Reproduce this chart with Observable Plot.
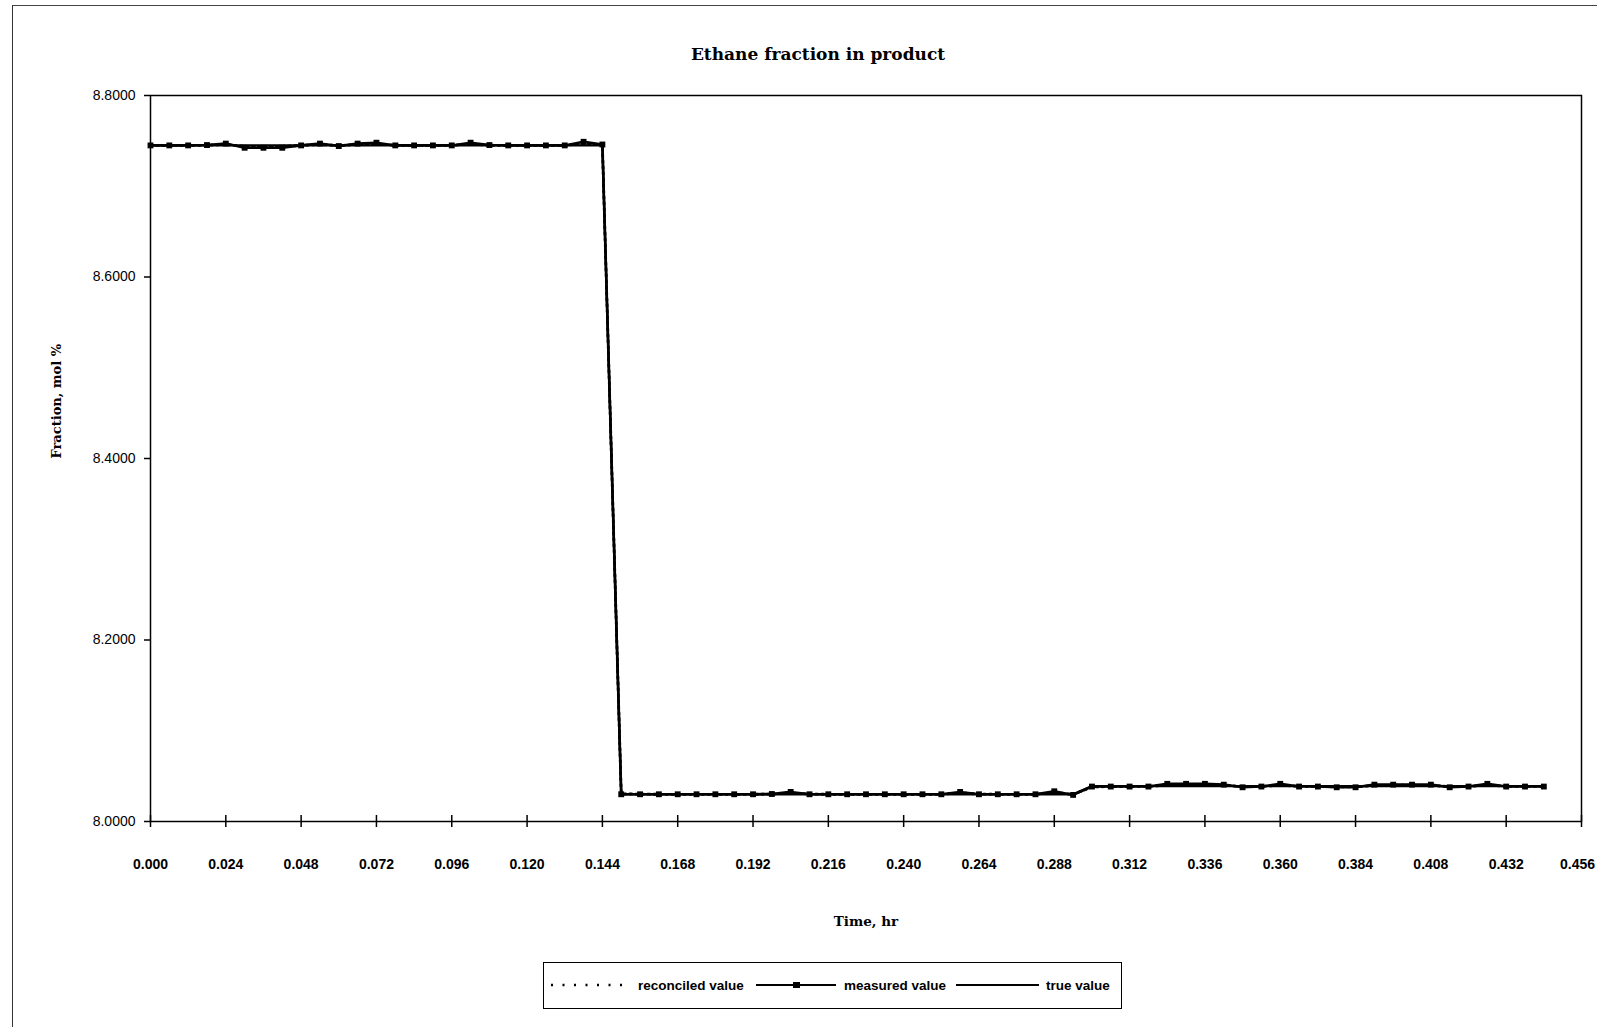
<!DOCTYPE html>
<html>
<head>
<meta charset="utf-8">
<script src="https://cdn.jsdelivr.net/npm/d3@7"></script>
<script src="https://cdn.jsdelivr.net/npm/@observablehq/plot@0.6"></script>
<style>
  html, body { margin: 0; padding: 0; background: white; }
  #page { position: relative; width: 1597px; height: 1027px; overflow: hidden; background: white; }
  #frameBorder { position: absolute; left: 12px; top: 5px; width: 1600px; height: 1100px; z-index: 5;
    border-left: 1.5px solid #333; border-top: 1.5px solid #444; pointer-events: none; }
  #title { position: absolute; top: 44px; left: 818px; transform: translateX(-50%);
    font-family: "DejaVu Serif", serif; font-weight: bold; font-size: 17px; white-space: nowrap; }
  #chart { position: absolute; left: 0; top: 80px; }
  #legend { position: absolute; left: 543px; top: 962px; width: 579px; height: 47px;
    border: 1.5px solid black; box-sizing: border-box; background: white; }
</style>
</head>
<body>
<div id="page">
  <div id="frameBorder"></div>
  <div id="title">Ethane fraction in product</div>
  <div id="chart"></div>
  <div id="legend"></div>
</div>
<script>
// ---- data ----
const time = [
  0.000, 0.006, 0.012, 0.018, 0.024, 0.030, 0.036, 0.042, 0.048, 0.054,
  0.060, 0.066, 0.072, 0.078, 0.084, 0.090, 0.096, 0.102, 0.108, 0.114,
  0.120, 0.126, 0.132, 0.138, 0.144, 0.150, 0.156, 0.162, 0.168, 0.174,
  0.180, 0.186, 0.192, 0.198, 0.204, 0.210, 0.216, 0.222, 0.228, 0.234,
  0.240, 0.246, 0.252, 0.258, 0.264, 0.270, 0.276, 0.282, 0.288, 0.294,
  0.300, 0.306, 0.312, 0.318, 0.324, 0.330, 0.336, 0.342, 0.348, 0.354,
  0.360, 0.366, 0.372, 0.378, 0.384, 0.390, 0.396, 0.402, 0.408, 0.414,
  0.420, 0.426, 0.432, 0.438, 0.444
];
const measuredValue = [
  8.7450, 8.7450, 8.7450, 8.7454, 8.7470, 8.7424, 8.7424, 8.7424, 8.7450, 8.7470,
  8.7443, 8.7470, 8.7480, 8.7450, 8.7450, 8.7450, 8.7450, 8.7480, 8.7454, 8.7450,
  8.7450, 8.7450, 8.7450, 8.7490, 8.7460, 8.0300, 8.0300, 8.0300, 8.0300, 8.0300,
  8.0300, 8.0300, 8.0300, 8.0303, 8.0326, 8.0300, 8.0300, 8.0300, 8.0300, 8.0300,
  8.0300, 8.0300, 8.0300, 8.0326, 8.0300, 8.0300, 8.0300, 8.0300, 8.0333, 8.0293,
  8.0385, 8.0385, 8.0385, 8.0385, 8.0415, 8.0415, 8.0415, 8.0406, 8.0377, 8.0385,
  8.0415, 8.0385, 8.0385, 8.0377, 8.0377, 8.0406, 8.0406, 8.0406, 8.0406, 8.0377,
  8.0385, 8.0415, 8.0385, 8.0385, 8.0385
];
const reconciledValue = [
  8.7450, 8.7450, 8.7450, 8.7452, 8.7460, 8.7440, 8.7438, 8.7440, 8.7450, 8.7460,
  8.7448, 8.7460, 8.7465, 8.7452, 8.7450, 8.7450, 8.7450, 8.7465, 8.7452, 8.7450,
  8.7450, 8.7450, 8.7450, 8.7470, 8.7455, 8.0305, 8.0302, 8.0300, 8.0300, 8.0300,
  8.0300, 8.0300, 8.0300, 8.0302, 8.0315, 8.0302, 8.0300, 8.0300, 8.0300, 8.0300,
  8.0300, 8.0300, 8.0300, 8.0315, 8.0302, 8.0300, 8.0300, 8.0300, 8.0318, 8.0300,
  8.0380, 8.0385, 8.0386, 8.0386, 8.0400, 8.0405, 8.0405, 8.0400, 8.0385, 8.0386,
  8.0400, 8.0388, 8.0386, 8.0382, 8.0382, 8.0396, 8.0400, 8.0400, 8.0398, 8.0384,
  8.0386, 8.0400, 8.0388, 8.0386, 8.0386
];
const trueValue = [
  8.745, 8.745, 8.745, 8.745, 8.745, 8.745, 8.745, 8.745, 8.745, 8.745,
  8.745, 8.745, 8.745, 8.745, 8.745, 8.745, 8.745, 8.745, 8.745, 8.745,
  8.745, 8.745, 8.745, 8.745, 8.745, 8.030, 8.030, 8.030, 8.030, 8.030,
  8.030, 8.030, 8.030, 8.030, 8.030, 8.030, 8.030, 8.030, 8.030, 8.030,
  8.030, 8.030, 8.030, 8.030, 8.030, 8.030, 8.030, 8.030, 8.030, 8.030,
  8.039, 8.039, 8.039, 8.039, 8.039, 8.039, 8.039, 8.039, 8.039, 8.039,
  8.039, 8.039, 8.039, 8.039, 8.039, 8.039, 8.039, 8.039, 8.039, 8.039,
  8.039, 8.039, 8.039, 8.039, 8.039
];
const xTicks = [0.000, 0.024, 0.048, 0.072, 0.096, 0.120, 0.144, 0.168, 0.192, 0.216,
  0.240, 0.264, 0.288, 0.312, 0.336, 0.360, 0.384, 0.408, 0.432, 0.456];
const yTicks = [8.0, 8.2, 8.4, 8.6, 8.8];
const seriesNames = ["reconciled value", "measured value", "true value"];
const titleText = "Ethane fraction in product";
const xLabel = "Time, hr";
const yLabel = "Fraction, mol %";

// ---- build rows ----
const measRows = time.map((t, i) => ({t, v: measuredValue[i]}));
const recRows = time.map((t, i) => ({t, v: reconciledValue[i]}));
const trueRows = time.map((t, i) => ({t, v: trueValue[i]}));

document.getElementById("title").textContent = titleText;

const lastTick = xTicks[xTicks.length - 1];
const innerTicks = xTicks.slice(0, -1);

const chart = Plot.plot({
  width: 1597,
  height: 870,
  marginLeft: 150,
  marginRight: 16,
  marginTop: 15,
  marginBottom: 129,
  x: {domain: [0, 0.456]},
  y: {domain: [8.0, 8.8]},
  style: {fontFamily: "'Liberation Sans', Arial, sans-serif", background: "transparent", color: "black", overflow: "visible"},
  marks: [
    Plot.frame({stroke: "black", strokeWidth: 1.5}),
    Plot.axisY({ticks: yTicks, tickSize: 6, tickPadding: 9, tickFormat: d => d.toFixed(4),
      fontSize: 14, label: null, strokeWidth: 1.5}),
    Plot.axisX({ticks: xTicks, tickSize: 12, dy: -6, tickFormat: () => "", label: null, strokeWidth: 1.5}),
    Plot.axisX({ticks: innerTicks, tickSize: 0, tickPadding: 38, tickFormat: d => d.toFixed(3),
      fontSize: 14, fontWeight: "bold", label: null}),
    Plot.axisX({ticks: [lastTick], tickSize: 0, tickPadding: 38, tickFormat: d => d.toFixed(3),
      fontSize: 14, fontWeight: "bold", label: null, dx: -4}),
    Plot.line(trueRows, {x: "t", y: "v", stroke: "black", strokeWidth: 2.4}),
    Plot.line(measRows, {x: "t", y: "v", stroke: "black", strokeWidth: 2.6}),
    Plot.dot(measRows, {x: "t", y: "v", symbol: "square", r: 3.3, fill: "black", stroke: "none"}),
    Plot.line(recRows, {x: "t", y: "v", stroke: "black", strokeWidth: 2.8, strokeDasharray: "2,4"}),
    Plot.text([yLabel], {frameAnchor: "left", dx: -94, rotate: -90, text: d => d,
      fontFamily: "'DejaVu Serif', serif", fontWeight: "bold", fontSize: 13, fill: "black"}),
    Plot.text([xLabel], {frameAnchor: "bottom", dy: 104, text: d => d,
      fontFamily: "'DejaVu Serif', serif", fontWeight: "bold", fontSize: 13.5, fill: "black"})
  ]
});
document.getElementById("chart").appendChild(chart);

// ---- legend ----
const lg = d3.select("#legend").append("svg").attr("width", 576).attr("height", 44)
  .style("display", "block");
const cy = 22;
const fontL = "'Liberation Sans', Arial, sans-serif";
// reconciled (dotted)
lg.append("line").attr("x1", 7).attr("x2", 86).attr("y1", cy).attr("y2", cy)
  .attr("stroke", "black").attr("stroke-width", 2.5).attr("stroke-dasharray", "2,9.5");
lg.append("text").attr("x", 94).attr("y", cy).attr("dy", "0.35em").text(seriesNames[0])
  .attr("font-family", fontL).attr("font-weight", "bold").attr("font-size", 13.5);
// measured (line + square)
lg.append("line").attr("x1", 212).attr("x2", 292).attr("y1", cy).attr("y2", cy)
  .attr("stroke", "black").attr("stroke-width", 2);
lg.append("rect").attr("x", 249).attr("y", cy - 3).attr("width", 7).attr("height", 6).attr("fill", "black");
lg.append("text").attr("x", 300).attr("y", cy).attr("dy", "0.35em").text(seriesNames[1])
  .attr("font-family", fontL).attr("font-weight", "bold").attr("font-size", 13.5);
// true
lg.append("line").attr("x1", 412).attr("x2", 495).attr("y1", cy).attr("y2", cy)
  .attr("stroke", "black").attr("stroke-width", 2);
lg.append("text").attr("x", 502).attr("y", cy).attr("dy", "0.35em").text(seriesNames[2])
  .attr("font-family", fontL).attr("font-weight", "bold").attr("font-size", 13.5);
</script>
</body>
</html>
